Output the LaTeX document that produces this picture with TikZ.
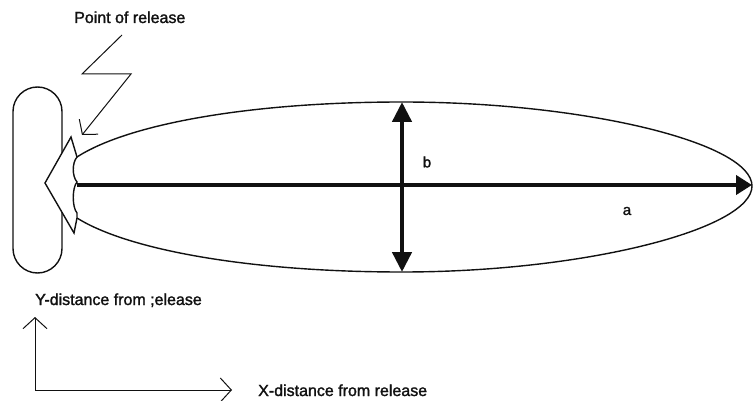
\documentclass[tikz,border=0pt]{standalone}
\usepackage{fontspec}
\setmainfont{Liberation Sans}[BoldFont=Liberation Sans, BoldFeatures={FakeBold=1.6}]
\usepackage{tikz}
\usetikzlibrary{positioning,arrows.meta,calc}
\definecolor{ink}{HTML}{111111}
\tikzset{
  >=Stealth,
  every node/.style={font=\fontsize{16}{18}\selectfont\bfseries, text=ink, inner sep=0pt},
  % --- shapes
  outline/.style = {draw=ink, line width=1.4pt},
  fine/.style    = {draw=ink, line width=1pt},
  % --- edges
  axis/.style    = {fine, -{Straight Barb[length=11pt,width=24pt]}},
  bolt/.style    = {fine, line join=miter, -{Straight Barb[length=10pt,width=24pt]}},
  bold/.style    = {draw=ink, line width=4.5pt, -{Triangle[length=16pt,width=19pt]}},
  span/.style    = {draw=ink, line width=4.5pt,
                    {Triangle[length=20pt,width=19pt]}-{Triangle[length=20pt,width=19pt]}},
  lbl/.style     = {font=\fontsize{15}{17}\selectfont\bfseries},
}

\begin{document}
\begin{tikzpicture}[x=1pt,y=-1pt]
  \useasboundingbox (0,0) rectangle (753,401);
  % body the release is made from
  \node[outline, rounded corners=24.5pt, minimum width=49pt, minimum height=186pt]
    (body) at (37.5,180) {};
  % plume outline
  \coordinate (ut) at (77,157);
  \coordinate (lt) at (77,218);
  \coordinate (nose) at (752,186);
  \draw[outline] (ut) .. controls (128,124) and (250,102) .. (402,102)
    .. controls (585,102) and (752,143) .. (nose)
    .. controls (752,229) and (585,272) .. (402,272)
    .. controls (250,272) and (128,250) .. (lt);
  % point of release
  \coordinate (tip) at (45,183);
  \draw[outline, fill=white, line join=miter] (tip) -- (71,137) -- (ut)
    .. controls (72,163) and (72,176) .. (77,182)
    .. controls (72,188) and (72,207) .. (77,213)
    -- (lt) -- (74,233) -- cycle;
  % axes a and b
  \coordinate (back) at (77,185);
  \coordinate (top) at (402,102);
  \coordinate (bot) at (402,272);
  \draw[bold] (back) -- (nose |- back);
  \draw[span] (top) -- (bot);
  \node[lbl] (b) at (427,162) {b};
  \node[lbl] (a) at (627,211) {a};
  % label and zigzag pointer
  \node[anchor=base west] (rel) at (74,23) {Point of release};
  \coordinate (hit) at (82,135);
  \draw[bolt] (122,35) -- (82,74) -- (131,74) -- (hit);
  % direction key
  \coordinate (orig) at (35,390);
  \coordinate (yend) at (35,317);
  \coordinate (xend) at (232,390);
  \draw[axis] (orig) -- (yend);
  \draw[axis] (orig) -- (xend);
  \node[anchor=base west] (ylab) at (35,305) {Y-distance from ;elease};
  \node[anchor=base west] (xlab) at (258,396) {X-distance from release};
\end{tikzpicture}
\end{document}
